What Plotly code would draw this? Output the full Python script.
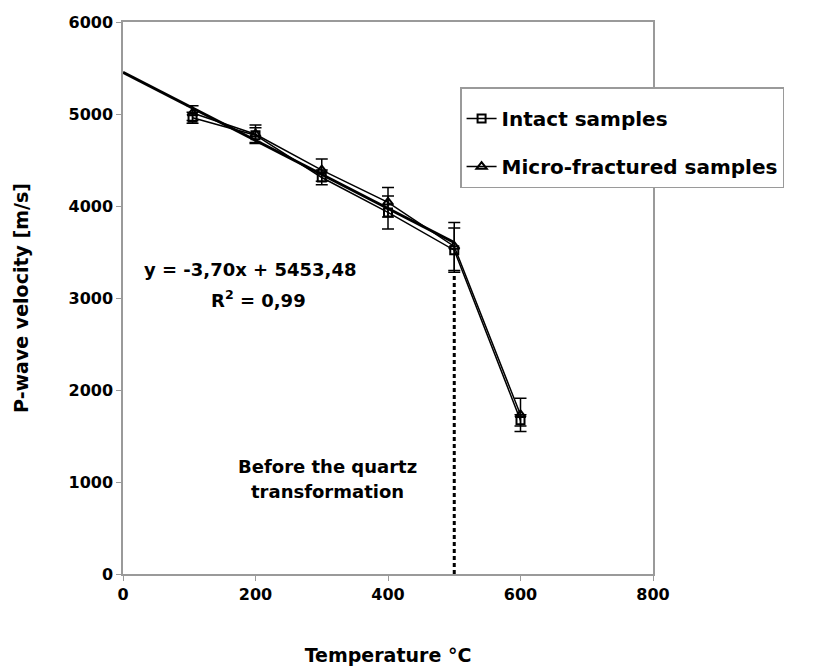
import plotly.graph_objects as go

temps = [105, 200, 300, 400, 500, 600]
intact = [4960, 4770, 4310, 3930, 3520, 1670]
intact_err = [60, 80, 80, 180, 240, 60]
micro = [5010, 4780, 4390, 4040, 3560, 1730]
micro_err = [80, 100, 120, 160, 260, 180]

trend_slope = -3.70
trend_intercept = 5453.48
trend_x = [0, 500]
trend_y = [trend_intercept + trend_slope * x for x in trend_x]

quartz_x = [500, 500]
quartz_y = [0, 3250]

FONT = "DejaVu Sans, Liberation Sans, Arial, sans-serif"
GRAY = "#9a9a9a"

fig = go.Figure()

fig.add_trace(go.Scatter(
    x=trend_x, y=trend_y, mode="lines",
    line=dict(color="black", width=3), showlegend=False, hoverinfo="skip"))

fig.add_trace(go.Scatter(
    x=quartz_x, y=quartz_y, mode="lines",
    line=dict(color="black", width=3, dash="4px,3px"), showlegend=False, hoverinfo="skip"))

fig.add_trace(go.Scatter(
    x=temps, y=intact, mode="lines+markers", name="Intact samples",
    legendgroup="a",
    line=dict(color="black", width=1.5),
    marker=dict(symbol="square-open", size=8, color="black", line=dict(width=2)),
    error_y=dict(type="data", array=intact_err, color="black", thickness=1.5, width=6)))

fig.add_trace(go.Scatter(
    x=temps, y=micro, mode="lines+markers", name="Micro-fractured samples",
    legendgroup="b",
    line=dict(color="black", width=1.5),
    marker=dict(symbol="triangle-up-open", size=9, color="black", line=dict(width=2)),
    error_y=dict(type="data", array=micro_err, color="black", thickness=1.5, width=6)))

ann_font = dict(family=FONT, size=18, color="black", weight="bold")
fig.add_annotation(x=192, y=3310, xref="x", yref="y",
                   text="y = -3,70x + 5453,48", showarrow=False, font=ann_font)
fig.add_annotation(x=205, y=2990, xref="x", yref="y",
                   text="R<sup>2</sup> = 0,99", showarrow=False, font=ann_font)
fig.add_annotation(x=308, y=1170, xref="x", yref="y",
                   text="Before the quartz", showarrow=False, font=ann_font)
fig.add_annotation(x=308, y=900, xref="x", yref="y",
                   text="transformation", showarrow=False, font=ann_font)

fig.update_layout(
    width=815, height=671,
    margin=dict(l=123, r=162, t=22, b=97),
    paper_bgcolor="white", plot_bgcolor="white",
    font=dict(family=FONT, color="black"),
    legend=dict(x=0.636, y=0.882, xanchor="left", yanchor="top",
                bordercolor=GRAY, borderwidth=1.5, bgcolor="white",
                font=dict(family=FONT, size=20, color="black", weight="bold"),
                title=dict(text=" ", font=dict(size=8)),
                traceorder="grouped", tracegroupgap=19),
    xaxis=dict(range=[0, 800], dtick=200, tick0=0, showgrid=False, zeroline=False,
               showline=True, linecolor=GRAY, linewidth=1.5, mirror=True,
               ticks="outside", ticklen=5, tickcolor=GRAY, automargin=False,
               tickfont=dict(family=FONT, size=16, weight="bold"),
               title=dict(text="Temperature °C", standoff=46,
                          font=dict(family=FONT, size=19, weight="bold"))),
    yaxis=dict(range=[0, 6000], dtick=1000, tick0=0, showgrid=False, zeroline=False,
               showline=True, linecolor=GRAY, linewidth=1.5, mirror=True,
               ticks="outside", ticklen=5, tickcolor=GRAY, automargin=False,
               tickfont=dict(family=FONT, size=16, weight="bold"),
               title=dict(text="P-wave velocity [m/s]", standoff=35,
                          font=dict(family=FONT, size=19, weight="bold"))),
)

fig.write_html("out.html")
